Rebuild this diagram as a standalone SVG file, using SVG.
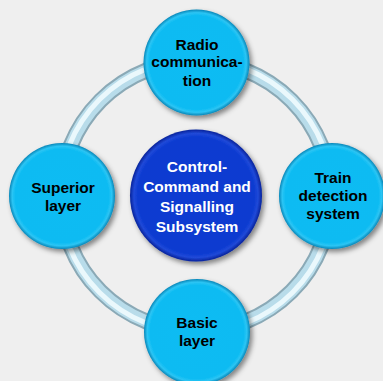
<svg xmlns="http://www.w3.org/2000/svg" width="383" height="381" viewBox="0 0 383 381">
  <defs>
    <style>
      .lbl { font-family: "Liberation Sans", Arial, sans-serif; font-weight: bold; font-size: 15.5px; text-anchor: middle; fill: #000; }
      .lblw { fill: #fff; }
      .node { fill: url(#gCyan); filter: url(#shadow); }
      .core { fill: url(#gBlue); filter: url(#shadow); }
    </style>
    <radialGradient id="gCyan" cx="0.5" cy="0.5" r="0.5">
      <stop offset="0" stop-color="#0abcf3"/>
      <stop offset="0.88" stop-color="#0abbf2"/>
      <stop offset="0.94" stop-color="#2cc5f4"/>
      <stop offset="1" stop-color="#0786b8"/>
    </radialGradient>
    <radialGradient id="gBlue" cx="0.5" cy="0.5" r="0.5">
      <stop offset="0" stop-color="#0a3ad2"/>
      <stop offset="0.88" stop-color="#0a3ad0"/>
      <stop offset="0.94" stop-color="#2049d8"/>
      <stop offset="1" stop-color="#06229a"/>
    </radialGradient>
    <filter id="shadow" x="-20%" y="-20%" width="150%" height="150%">
      <feDropShadow dx="2.5" dy="3" stdDeviation="2.5" flood-color="#000" flood-opacity="0.45"/>
    </filter>
  </defs>
  <rect width="383" height="381" fill="#efefef"/>
  <g id="connectors">
    <circle cx="196" cy="196" r="135" fill="none" stroke="#8aa9b6" stroke-width="16"/>
    <circle cx="196" cy="196" r="135" fill="none" stroke="#b8dcea" stroke-width="12"/>
    <circle cx="196" cy="196" r="136.5" fill="none" stroke="#eaf8fc" stroke-width="5"/>
  </g>
  <g id="node-radio">
    <circle class="node" cx="196.5" cy="62.5" r="53"/>
    <text class="lbl" x="197" y="50">Radio</text>
    <text class="lbl" x="197" y="67">communica-</text>
    <text class="lbl" x="197" y="86">tion</text>
  </g>
  <g id="node-superior">
    <circle class="node" cx="62" cy="196" r="53"/>
    <text class="lbl" x="63" y="192.5">Superior</text>
    <text class="lbl" x="63" y="210.5">layer</text>
  </g>
  <g id="node-train">
    <circle class="node" cx="332" cy="196" r="53"/>
    <text class="lbl" x="333" y="182.5">Train</text>
    <text class="lbl" x="333" y="201">detection</text>
    <text class="lbl" x="333" y="218.5">system</text>
  </g>
  <g id="node-basic">
    <circle class="node" cx="197" cy="332" r="53"/>
    <text class="lbl" x="197" y="327.5">Basic</text>
    <text class="lbl" x="197" y="345.5">layer</text>
  </g>
  <g id="node-center">
    <circle class="core" cx="196" cy="195.5" r="66"/>
    <text class="lbl lblw" x="197" y="171.5">Control-</text>
    <text class="lbl lblw" x="197" y="191.5">Command and</text>
    <text class="lbl lblw" x="197" y="211.5">Signalling</text>
    <text class="lbl lblw" x="197" y="231.5">Subsystem</text>
  </g>
</svg>
